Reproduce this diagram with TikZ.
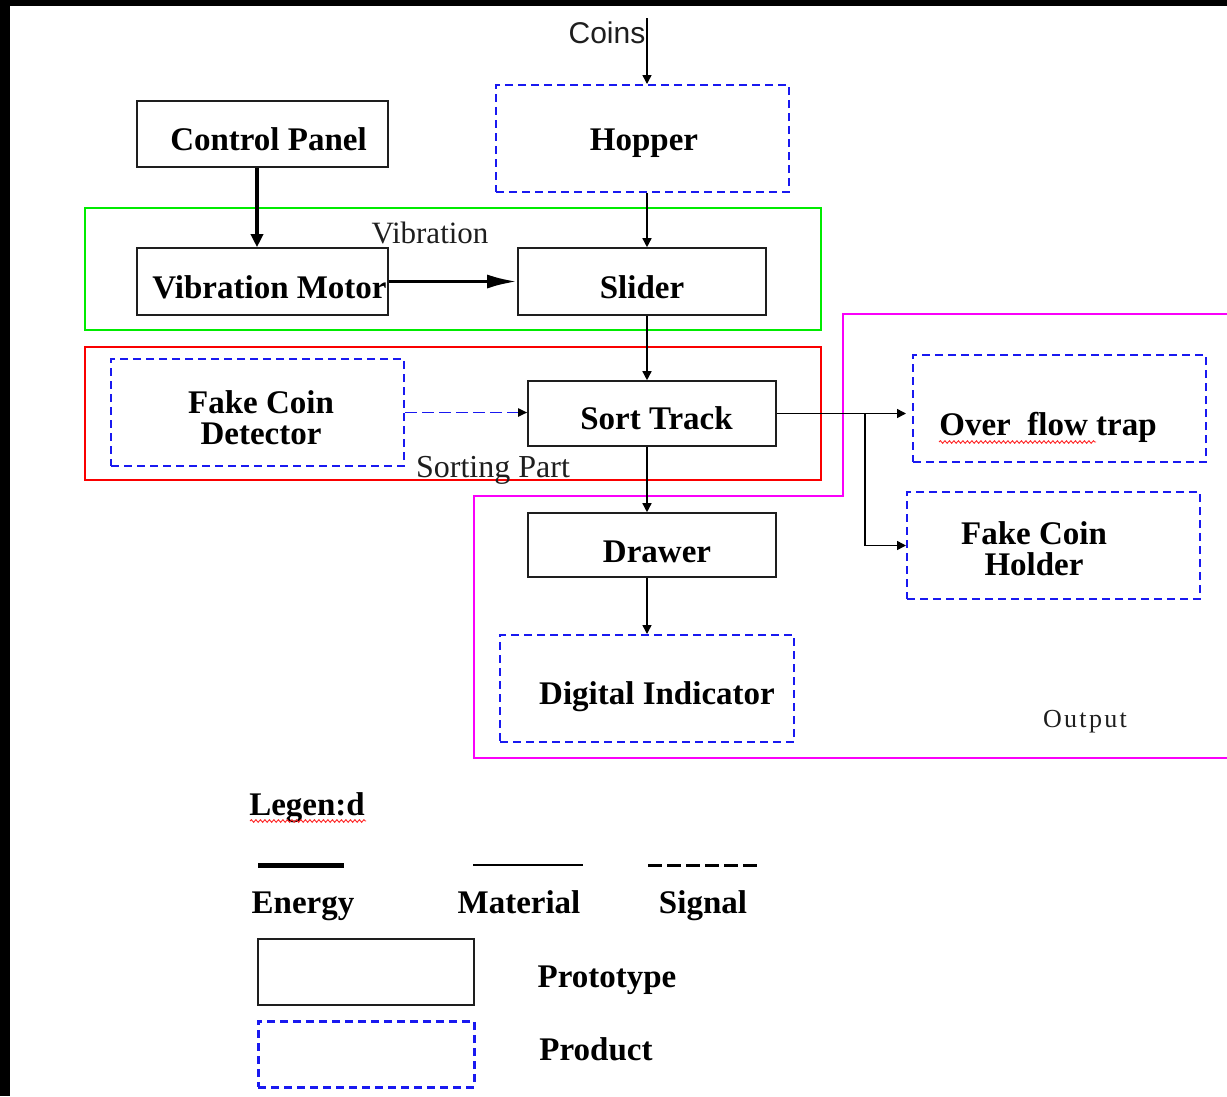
\documentclass[tikz,border=0pt]{standalone}
\usepackage{fontspec}
\setmainfont{Liberation Serif}
\newfontfamily\coinsfont{Liberation Sans}
\newfontfamily\spacedserif[LetterSpace=9]{Liberation Serif}
\usetikzlibrary{arrows.meta,decorations.pathmorphing}

\definecolor{prodblue}{RGB}{25,25,240}
\definecolor{grpgreen}{RGB}{0,235,0}
\definecolor{grpred}{RGB}{250,0,0}
\definecolor{grpmag}{RGB}{250,0,250}
\definecolor{inkgray}{RGB}{30,30,30}

\tikzset{
  boxfont/.style={font=\fontsize{33}{30.5}\selectfont\bfseries, align=center, text=black},
  protobox/.style={boxfont, draw=inkgray, line width=1.6pt, inner sep=0pt},
  prodbox/.style={boxfont, draw=prodblue, line width=2pt, dash pattern=on 8pt off 5pt, inner sep=0pt},
  % places the last baseline #1/2 below the centre of the box
  basedrop/.style={text height=#1, text depth=0pt},
  grpbox/.style={line width=2pt, inner sep=0pt},
  thinlbl/.style={text=inkgray, inner sep=0pt, anchor=base},
  leglbl/.style={boxfont, inner sep=0pt, anchor=base},
  material/.style={draw=black, line width=1.5pt, -{Triangle[length=9pt,width=9pt]}},
  energy/.style={draw=black, line width=3.5pt, -{Triangle[length=13pt,width=12pt]}},
  signal/.style={draw=prodblue, line width=1.8pt, dash pattern=on 12pt off 5pt, -{Triangle[length=9pt,width=8pt,black]}},
  spell/.style={draw=red!85, line width=0.9pt, decorate, decoration={snake, segment length=4.5pt, amplitude=1.3pt}},
}

\begin{document}
\begin{tikzpicture}[x=1pt,y=-1pt]
  % frame and canvas
  \fill[black] (0,0) rectangle (1227,1096);
  \fill[white] (10,6) rectangle (1227,1096);
  \useasboundingbox (0,0) rectangle (1227,1096);

  % grouping frames
  \node[grpbox, draw=grpgreen, minimum width=736pt, minimum height=122pt] (vibgrp) at (453,269) {};
  \node[grpbox, draw=grpred, minimum width=736pt, minimum height=133pt] (sortgrp) at (453,413.5) {};
  \draw[grpmag, line width=2pt] (1227,314) -- (843,314) -- (843,496) -- (474,496) -- (474,758) -- (1227,758);

  % components
  \node[protobox, basedrop=32pt, minimum width=251pt, minimum height=66pt] (cp) at (262.5,134) {\hspace*{12pt}Control Panel};
  \node[protobox, basedrop=33pt, minimum width=251pt, minimum height=67pt] (vm) at (262.5,281.5) {\hspace*{14pt}Vibration Motor};
  \node[prodbox, basedrop=23pt, minimum width=293pt, minimum height=107pt] (hop) at (642.5,138.5) {\hspace*{3pt}Hopper};
  \node[protobox, basedrop=33pt, minimum width=248pt, minimum height=67pt] (sl) at (642,281.5) {Slider};
  \node[prodbox, basedrop=63.6pt, minimum width=293pt, minimum height=107pt] (fcd) at (257.5,412.5) {\hspace*{7pt}Fake Coin\\\hspace*{7pt}Detector};
  \node[protobox, basedrop=31pt, minimum width=248pt, minimum height=65pt] (st) at (652,413.5) {\hspace*{9pt}Sort Track};
  \node[protobox, basedrop=35.4pt, minimum width=248pt, minimum height=64pt] (dr) at (652,545) {\hspace*{10pt}Drawer};
  \node[prodbox, basedrop=31pt, minimum width=294pt, minimum height=107pt] (di) at (647,688.5) {\hspace*{20pt}Digital Indicator};
  \node[prodbox, basedrop=53pt, minimum width=293pt, minimum height=107pt] (trap) at (1059.5,408.5) {Over\ \ flow trap\hspace*{23pt}};
  \node[prodbox, basedrop=59pt, minimum width=293pt, minimum height=107pt] (fch) at (1053.5,545.5) {Fake Coin\hspace*{39pt}\\Holder\hspace*{39pt}};

  % labels
  \node[thinlbl, font=\coinsfont\fontsize{30}{30}\selectfont] (coins) at (607,43) {Coins};
  \node[thinlbl, font=\fontsize{31}{31}\selectfont] (viblbl) at (430,243) {Vibration};
  \node[thinlbl, font=\fontsize{32}{32}\selectfont] (sortlbl) at (493,477) {Sorting Part};
  \node[thinlbl, font=\spacedserif\fontsize{26}{26}\selectfont] (outlbl) at (1085,727) {Output};

  % flows
  \coordinate (spine) at (647,0);
  \coordinate (coinsin) at (647,18);
  \coordinate (branch) at (865,0);
  \coordinate (ecol) at (257,0);
  \draw[material] (coinsin) -- (coinsin |- hop.north);
  \draw[material] (hop.south -| spine) -- (sl.north -| spine);
  \draw[material] (sl.south -| spine) -- (st.north -| spine);
  \draw[material] (st.south -| spine) -- (dr.north -| spine);
  \draw[material] (dr.south -| spine) -- (di.north -| spine);
  \draw[material, shorten >=6pt] (st.east) -- (st.east -| trap.west);
  \draw[material] (st.east -| branch) |- (fch.west);
  \draw[energy] (cp.south -| ecol) -- (vm.north -| ecol);
  \draw[energy, -{Latex[length=30pt,width=14pt]}] (vm.east) -- (sl.west);
  \draw[signal] (fcd.east) -- (fcd.east -| st.west);

  % spelling marks
  \coordinate (trapmark) at (939,442);
  \draw[spell] (trapmark) -- ++(157,0);

  % legend
  \node[leglbl] (legtitle) at (307,815) {Legen:d};
  \coordinate (legmark) at (250,821);
  \draw[spell] (legmark) -- ++(116,0);
  \coordinate (en1) at (258,865); \coordinate (en2) at (344,865);
  \coordinate (ma1) at (473,865); \coordinate (ma2) at (583,865);
  \coordinate (si1) at (648,865); \coordinate (si2) at (757,865);
  \draw[black, line width=5pt] (en1) -- (en2);
  \draw[black, line width=1.5pt] (ma1) -- (ma2);
  \draw[black, line width=3pt, dash pattern=on 14pt off 5pt] (si1) -- (si2);
  \node[leglbl] (legen) at (303,913) {Energy};
  \node[leglbl] (legma) at (519,913) {Material};
  \node[leglbl] (legsi) at (703,913) {Signal};
  \node[protobox, minimum width=216pt, minimum height=66pt] (legproto) at (366,972) {};
  \node[prodbox, line width=3pt, minimum width=216pt, minimum height=66pt] (legprod) at (366,1054) {};
  \node[leglbl] (legprototxt) at (607,987) {Prototype};
  \node[leglbl] (legprodtxt) at (596,1060) {Product};
\end{tikzpicture}
\end{document}
